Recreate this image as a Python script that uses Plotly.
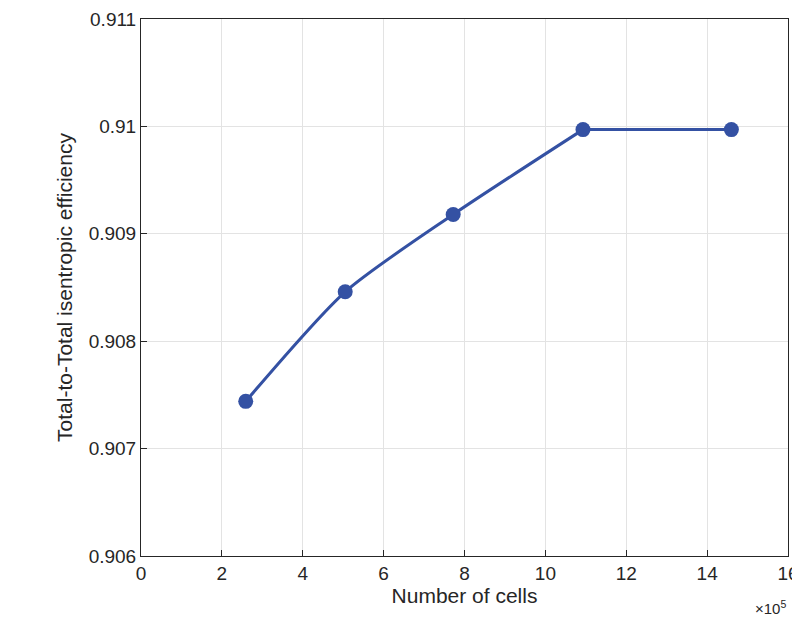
import plotly.graph_objects as go

cells = [2.59, 5.05, 7.72, 10.93, 14.6]  # x 10^5
efficiency = [0.90744, 0.90846, 0.90918, 0.90997, 0.90997]
y_ticks = [0.906, 0.907, 0.908, 0.909, 0.910, 0.911]
y_labels = ["0.906", "0.907", "0.908", "0.909", "0.91", "0.911"]

blue = "#3451a3"
fig = go.Figure()
# smooth curve up to the plateau, straight plateau afterwards
fig.add_trace(go.Scatter(x=cells[:4], y=efficiency[:4], mode="lines",
                         line=dict(color=blue, width=3, shape="spline", smoothing=0.7)))
fig.add_trace(go.Scatter(x=cells[3:], y=efficiency[3:], mode="lines",
                         line=dict(color=blue, width=3)))
fig.add_trace(go.Scatter(x=cells, y=efficiency, mode="markers",
                         marker=dict(size=15, color=blue)))

ax = dict(showline=True, linecolor="#262626", linewidth=1, mirror=True,
          showgrid=True, gridcolor="#e3e3e3", ticks="inside", ticklen=6,
          tickcolor="#262626", zeroline=False, automargin=False,
          tickfont=dict(size=19, color="#262626"))
fig.update_xaxes(range=[0, 16], dtick=2,
                 title=dict(text="Number of cells", font=dict(size=21, color="#262626"), standoff=4), **ax)
fig.update_yaxes(range=[0.906, 0.911], tickvals=y_ticks, ticktext=y_labels,
                 title=dict(text="Total-to-Total isentropic efficiency", font=dict(size=21, color="#262626"), standoff=10), **ax)
fig.add_annotation(x=1, y=0, xref="paper", yref="paper", yshift=-40, xanchor="right", yanchor="top",
                   text="×10<sup>5</sup>", showarrow=False, font=dict(size=15, color="#262626"))
fig.update_layout(width=800, height=617, plot_bgcolor="white", paper_bgcolor="white",
                  font=dict(family="Liberation Sans, Arial"), showlegend=False,
                  margin=dict(l=133, r=20, t=11, b=69))
fig.write_html("out.html")
